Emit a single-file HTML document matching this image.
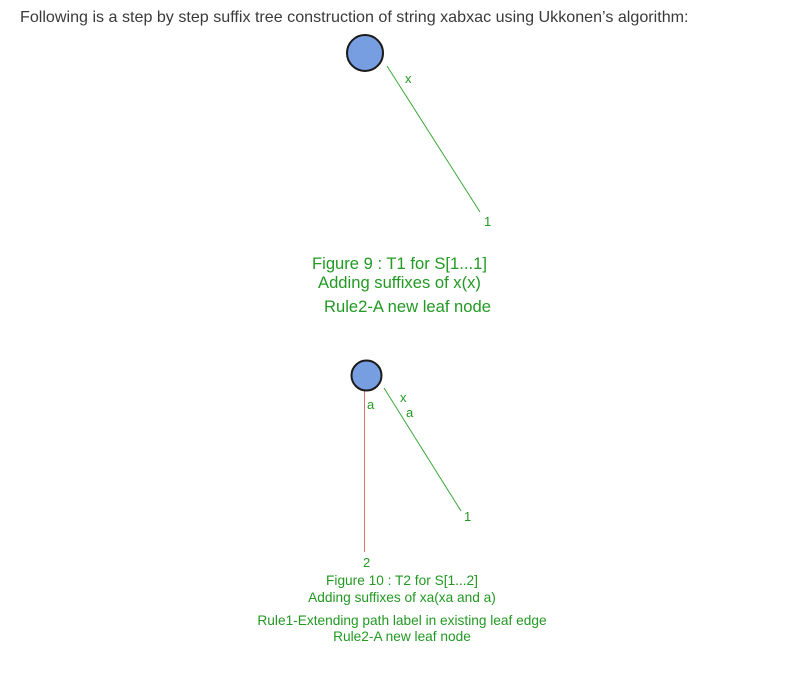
<!DOCTYPE html>
<html><head><meta charset="utf-8"><style>
html,body{margin:0;padding:0;background:#fff;}
body{width:806px;height:680px;overflow:hidden;position:relative;font-family:"Liberation Sans",Arial,sans-serif;}
#intro{position:absolute;left:20px;top:8px;font-size:16.1px;color:#3a3a3a;white-space:nowrap;}
svg{position:absolute;left:0;top:0;}
</style></head><body>
<div id="intro">Following is a step by step suffix tree construction of string xabxac using Ukkonen’s algorithm:</div>
<svg width="806" height="680" font-family="Liberation Sans, Arial, sans-serif">
  <g>
    <line x1="387" y1="66" x2="480" y2="212" stroke="#3aa83a" stroke-width="1"/>
    <circle cx="365" cy="53" r="18" fill="#779ee0" stroke="#1a1a1a" stroke-width="2"/>
    <text x="405" y="83" font-size="13" fill="#229922">x</text>
    <text x="484" y="226" font-size="13" fill="#229922">1</text>
    <text x="312" y="269" font-size="16.6" fill="#229922">Figure 9 : T1 for S[1...1]</text>
    <text x="318" y="288" font-size="16.6" fill="#229922">Adding suffixes of x(x)</text>
    <text x="324" y="312" font-size="16.6" fill="#229922">Rule2-A new leaf node</text>
  </g>
  <g>
    <line x1="364.5" y1="390" x2="364.5" y2="552" stroke="#e07070" stroke-width="1"/>
    <line x1="384" y1="388" x2="461" y2="511" stroke="#3aa83a" stroke-width="1"/>
    <circle cx="366.5" cy="375.5" r="15" fill="#779ee0" stroke="#1a1a1a" stroke-width="2"/>
    <text x="367" y="409" font-size="13" fill="#229922">a</text>
    <text x="400" y="402" font-size="13" fill="#229922">x</text>
    <text x="406" y="417" font-size="13" fill="#229922">a</text>
    <text x="464" y="521" font-size="13" fill="#229922">1</text>
    <text x="363" y="567" font-size="13" fill="#229922">2</text>
    <text x="402" y="585" font-size="13.7" fill="#229922" text-anchor="middle">Figure 10 : T2 for S[1...2]</text>
    <text x="402" y="602" font-size="13.7" fill="#229922" text-anchor="middle">Adding suffixes of xa(xa and a)</text>
    <text x="402" y="625" font-size="13.7" fill="#229922" text-anchor="middle">Rule1-Extending path label in existing leaf edge</text>
    <text x="402" y="641" font-size="13.7" fill="#229922" text-anchor="middle">Rule2-A new leaf node</text>
  </g>
</svg>
</body></html>
